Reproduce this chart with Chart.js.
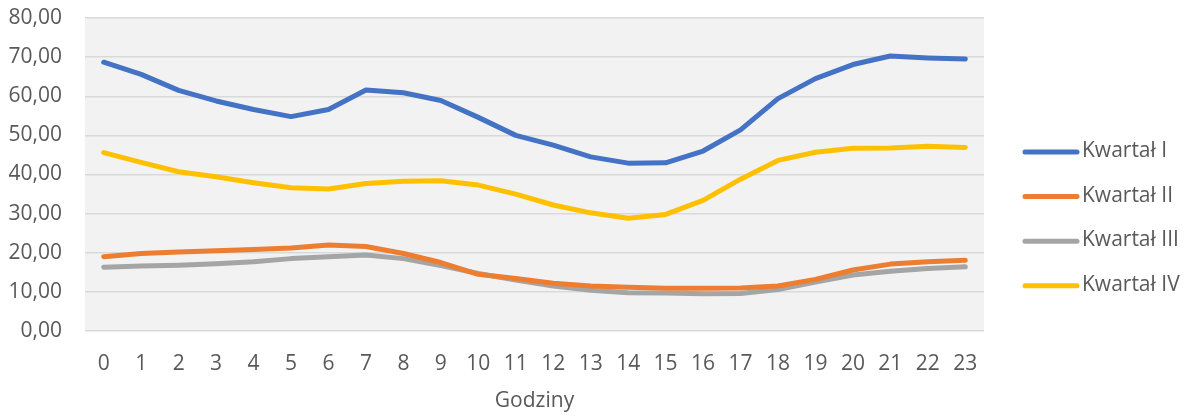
<!DOCTYPE html>
<html>
<head>
<meta charset="utf-8">
<script src="https://cdn.jsdelivr.net/npm/chart.js@4.4.1/dist/chart.umd.min.js"></script>
<style>
  html, body { margin: 0; padding: 0; background: #fff; }
  #wrap { width: 1190px; height: 417px; }
</style>
</head>
<body>
<div id="wrap"><canvas id="myChart" width="1190" height="417"></canvas></div>
<script>
// godziny 0..23
const hours = ['0','1','2','3','4','5','6','7','8','9','10','11','12','13','14','15','16','17','18','19','20','21','22','23'];

const kwartal1 = [68.7, 65.6, 61.5, 58.8, 56.6, 54.8, 56.6, 61.6, 60.9, 58.9, 54.6, 50.0, 47.5, 44.5, 42.9, 43.0, 46.0, 51.4, 59.4, 64.5, 68.1, 70.3, 69.8, 69.5];
const kwartal2 = [19.0, 19.8, 20.2, 20.5, 20.8, 21.2, 22.0, 21.6, 19.8, 17.5, 14.5, 13.4, 12.2, 11.5, 11.2, 10.9, 10.9, 11.0, 11.5, 13.2, 15.6, 17.1, 17.7, 18.1];
const kwartal3 = [16.3, 16.6, 16.8, 17.2, 17.7, 18.5, 19.0, 19.4, 18.5, 16.7, 14.7, 13.0, 11.5, 10.4, 9.8, 9.7, 9.5, 9.6, 10.6, 12.5, 14.3, 15.3, 16.0, 16.4];
const kwartal4 = [45.6, 43.1, 40.7, 39.4, 37.9, 36.6, 36.3, 37.7, 38.3, 38.4, 37.3, 35.0, 32.2, 30.2, 28.8, 29.8, 33.4, 38.8, 43.6, 45.7, 46.7, 46.8, 47.2, 46.9];

const seriesNames = ['Kwartał I', 'Kwartał II', 'Kwartał III', 'Kwartał IV'];
const seriesColors = ['#4472C4', '#ED7D31', '#A5A5A5', '#FFC000'];

const FONT = '"Open Sans", "Noto Sans", sans-serif';
const TEXT = '#595959';

// tlo obszaru wykresu
const plotBg = {
  id: 'plotBg',
  beforeDraw(chart) {
    const a = chart.chartArea;
    const c = chart.ctx;
    c.save();
    c.fillStyle = '#f2f2f2';
    c.fillRect(a.left, a.top, a.right - a.left, a.bottom - a.top);
    c.restore();
  }
};

// legenda po prawej, jak w Excelu
const sideLegend = {
  id: 'sideLegend',
  afterDraw(chart) {
    const c = chart.ctx;
    c.save();
    c.font = '21px ' + FONT;
    c.textBaseline = 'middle';
    c.textAlign = 'left';
    chart.data.datasets.forEach((ds, i) => {
      const y = 152 + i * 44.6;
      c.strokeStyle = ds.borderColor;
      c.lineWidth = 5;
      c.lineCap = 'round';
      c.beginPath();
      c.moveTo(1025, y);
      c.lineTo(1077, y);
      c.stroke();
      c.fillStyle = TEXT;
      c.fillText(ds.label, 1082, y - 1);
    });
    c.restore();
  }
};

const lines = [kwartal1, kwartal2, kwartal3, kwartal4];

const ctx = document.getElementById('myChart').getContext('2d');
const myChart = new Chart(ctx, {
  type: 'line',
  data: {
    labels: hours,
    datasets: lines.map((d, i) => ({
      label: seriesNames[i],
      data: d,
      borderColor: seriesColors[i],
      backgroundColor: seriesColors[i],
      borderWidth: 5,
      borderCapStyle: 'round',
      borderJoinStyle: 'round',
      pointRadius: 0,
      pointHoverRadius: 0,
      tension: 0,
      fill: false
    }))
  },
  options: {
    responsive: false,
    animation: false,
    devicePixelRatio: 1,
    layout: { padding: { left: 0, right: 206, top: 18, bottom: 0 } },
    plugins: {
      legend: { display: false },
      tooltip: { enabled: false }
    },
    scales: {
      x: {
        offset: true,
        grid: { display: false, drawTicks: false },
        border: { display: false },
        ticks: {
          color: TEXT,
          font: { family: FONT, size: 21 },
          padding: 20,
          maxRotation: 0,
          autoSkip: false
        },
        title: {
          display: true,
          text: 'Godziny',
          color: TEXT,
          font: { family: FONT, size: 21 },
          padding: { top: 0, bottom: 3 }
        },
        afterFit(scale) { scale.height = 86; }
      },
      y: {
        min: 0,
        max: 80,
        grid: { color: '#d9d9d9', lineWidth: 1.5, drawTicks: false },
        border: { display: false },
        ticks: {
          stepSize: 10,
          color: TEXT,
          font: { family: FONT, size: 21 },
          padding: 23,
          callback: v => v.toFixed(2).replace('.', ',')
        },
        afterFit(scale) {
          scale.width = 85;
          scale.paddingTop = 0;
          scale.paddingBottom = 0;
        }
      }
    }
  },
  plugins: [plotBg, sideLegend]
});
</script>
</body>
</html>
